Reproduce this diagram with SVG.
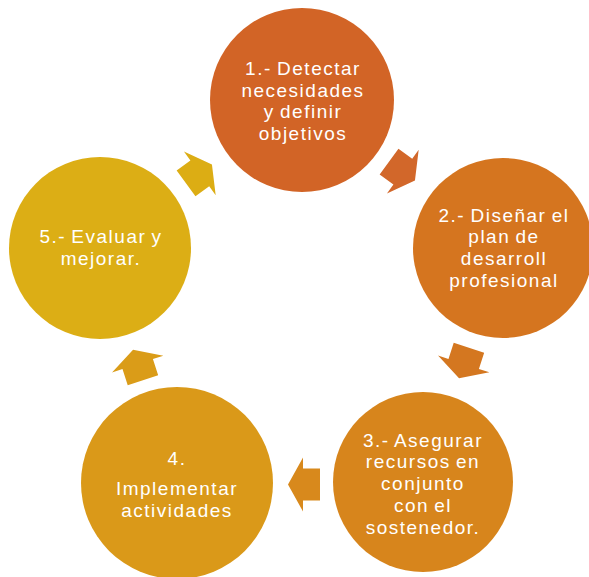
<svg xmlns="http://www.w3.org/2000/svg" width="589" height="577" viewBox="0 0 589 577">
  <defs>
    <style>
      .lbl { font-family: "Liberation Sans", Arial, sans-serif; font-size: 19px; letter-spacing: 1.5px; word-spacing: -1.5px; fill: #ffffff; text-anchor: middle; }
    </style>
    <polygon id="arrowShape" points="-16,-16 1,-16 1,-27 16,0 1,27 1,16 -16,16"/>
  </defs>
  <rect width="589" height="577" fill="#ffffff"/>

  <g id="connectors">
    <use href="#arrowShape" transform="translate(402,171) rotate(36)" fill="#D2672A"/>
    <use href="#arrowShape" transform="translate(464,363) rotate(108)" fill="#D47720"/>
    <use href="#arrowShape" transform="translate(304,484.5) rotate(180)" fill="#D8891C"/>
    <use href="#arrowShape" transform="translate(138,365) rotate(252)" fill="#DA9C18"/>
    <use href="#arrowShape" transform="translate(199,174) rotate(324)" fill="#DCAD14"/>
  </g>

  <g id="node1">
    <circle cx="302" cy="100" r="92" fill="#D26426"/>
    <text class="lbl" x="303" y="75">1.- Detectar</text>
    <text class="lbl" x="303" y="96.7">necesidades</text>
    <text class="lbl" x="303" y="118">y definir</text>
    <text class="lbl" x="303" y="139.5">objetivos</text>
  </g>

  <g id="node2">
    <circle cx="503" cy="248" r="90" fill="#D5751F"/>
    <text class="lbl" x="504" y="221.7">2.- Diseñar el</text>
    <text class="lbl" x="504" y="243.3">plan de</text>
    <text class="lbl" x="504" y="265">desarroll</text>
    <text class="lbl" x="504" y="286.7">profesional</text>
  </g>

  <g id="node3">
    <circle cx="423" cy="482" r="90" fill="#D7851C"/>
    <text class="lbl" x="423" y="446.7">3.- Asegurar</text>
    <text class="lbl" x="423" y="468.3">recursos en</text>
    <text class="lbl" x="423" y="490">conjunto</text>
    <text class="lbl" x="423" y="511.7">con el</text>
    <text class="lbl" x="423" y="534">sostenedor.</text>
  </g>

  <g id="node4">
    <circle cx="177" cy="483" r="96" fill="#DA9919"/>
    <text class="lbl" x="177" y="465">4.</text>
    <text class="lbl" x="177" y="495">Implementar</text>
    <text class="lbl" x="177" y="516.7">actividades</text>
  </g>

  <g id="node5">
    <circle cx="100" cy="248" r="91" fill="#DCAE15"/>
    <text class="lbl" x="101" y="243.3">5.- Evaluar y</text>
    <text class="lbl" x="101" y="265">mejorar.</text>
  </g>
</svg>
